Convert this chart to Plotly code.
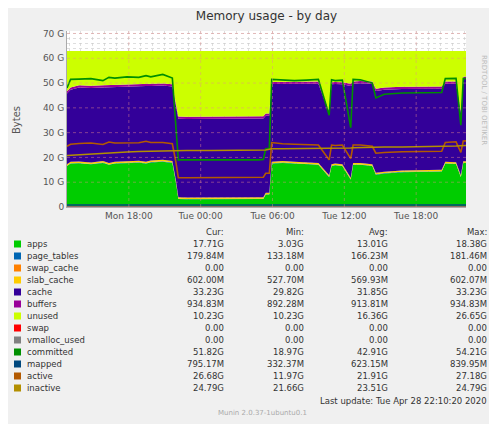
import plotly.graph_objects as go
import datetime as dt

start = dt.datetime(2020, 4, 27, 12, 50)
T = [0,0.3,1,2,3,3.5,4,5,6,6.6,7,8,8.8,9.1,9.3,10,12,14,16,16.4,16.6,16.9,17.1,18,19,20,21,21.9,22.1,22.4,23,23.7,23.9,24.5,25.5,25.8,26.5,28,30,31.3,31.6,32.5,32.9,33.1,33.33]
times = [start + dt.timedelta(hours=h) for h in T]

apps = [16.5,17.5,17.6,17.2,17.8,17.0,17.5,17.7,17.9,17.5,18.0,18.3,17.8,10.0,3.2,3.1,3.1,3.1,3.1,3.2,5.0,5.0,17.5,17.8,17.5,17.4,17.0,12.0,16.5,16.8,16.5,11.0,17.0,17.0,16.5,13.0,13.5,14.0,14.3,14.3,17.5,17.3,12.0,17.7,17.71]
page_tables = [0.17]*len(T)
swap_cache = [0.0]*len(T)
slab_cache = [0.6]*len(T)
cache = [28.5,29.0,29.8,30.0,29.6,30.5,30.0,30.2,30.0,30.5,30.0,29.9,30.0,30.0,31.6,31.6,31.6,31.6,31.6,31.7,31.0,31.0,31.3,31.0,31.4,31.5,32.0,25.0,32.2,32.0,32.2,37.0,32.0,32.2,32.5,33.0,33.0,32.8,32.7,32.6,31.5,31.7,25.0,33.2,33.23]
buffers = [0.9]*len(T)
total = 62.9
unused = [round(total - a - p - s - sl - c - b, 2) for a, p, s, sl, c, b in zip(apps, page_tables, swap_cache, slab_cache, cache, buffers)]
swap = [0.0]*len(T)
vmalloc_used = [0.0]*len(T)
committed = [48.0,51.5,51.6,51.8,51.0,52.3,52.0,52.5,52.3,53.0,52.5,53.5,52.0,30.0,19.0,19.0,19.1,19.0,19.0,19.2,23.5,23.7,51.5,51.3,51.0,51.2,51.5,37.0,51.3,51.0,51.2,32.0,51.5,51.3,50.0,44.0,45.5,46.0,46.3,46.2,51.8,51.9,33.0,51.8,51.82]
mapped = [0.8]*len(T)
active = [24.5,25.3,25.6,25.8,25.2,26.2,25.8,26.0,25.9,26.5,26.0,26.0,25.5,18.0,11.8,11.8,11.8,11.8,11.9,12.0,13.6,13.6,26.0,25.5,25.3,25.0,25.0,19.0,25.0,24.8,25.0,19.5,25.0,25.0,24.5,21.7,22.0,22.3,22.5,22.5,26.0,26.3,22.0,26.6,26.68]
inactive = [20.8,20.9,21.0,21.3,21.6,21.8,22.0,22.2,22.4,22.5,22.6,22.7,22.8,22.8,22.8,22.8,22.8,22.8,22.8,22.8,23.0,23.3,23.5,23.5,23.5,23.6,23.6,23.6,23.7,23.7,23.8,23.8,23.9,24.0,24.0,24.1,24.2,24.2,24.3,24.3,24.5,24.6,24.7,24.79,24.79]

stat_cur = ["17.71G","179.84M","0.00","602.00M","33.23G","934.83M","10.23G","0.00","0.00","51.82G","795.17M","26.68G","24.79G"]
stat_min = ["3.03G","133.18M","0.00","527.70M","29.82G","892.28M","10.23G","0.00","0.00","18.97G","332.37M","11.97G","21.66G"]
stat_avg = ["13.01G","166.23M","0.00","569.93M","31.85G","913.81M","16.36G","0.00","0.00","42.91G","623.15M","21.91G","23.51G"]
stat_max = ["18.38G","181.46M","0.00","602.07M","33.23G","934.83M","26.65G","0.00","0.00","54.21G","839.95M","27.18G","24.79G"]
names = ["apps","page_tables","swap_cache","slab_cache","cache","buffers","unused","swap","vmalloc_used","committed","mapped","active","inactive"]
colors = ["#00CC00","#0066B3","#FF8000","#FFCC00","#330099","#990099","#CCFF00","#FF0000","#808080","#008F00","#00487D","#B35A00","#B38F00"]
x_ticks = [dt.datetime(2020, 4, 27, 18), dt.datetime(2020, 4, 28, 0), dt.datetime(2020, 4, 28, 6),
           dt.datetime(2020, 4, 28, 12), dt.datetime(2020, 4, 28, 18)]
x_labels = ["Mon 18:00", "Tue 00:00", "Tue 06:00", "Tue 12:00", "Tue 18:00"]
y_ticks = [0, 10, 20, 30, 40, 50, 60, 70]
y_labels = ["0", "10 G", "20 G", "30 G", "40 G", "50 G", "60 G", "70 G"]

fig = go.Figure()
areas = [apps, page_tables, swap_cache, slab_cache, cache, buffers, unused]
for i, vals in enumerate(areas):
    fig.add_trace(go.Scatter(x=times, y=vals, stackgroup="m", mode="lines",
                             line=dict(width=0, color=colors[i]), fillcolor=colors[i],
                             showlegend=False, hoverinfo="skip"))
lines = [swap, vmalloc_used, committed, mapped, active, inactive]
for j, vals in enumerate(lines):
    fig.add_trace(go.Scatter(x=times, y=vals, mode="lines",
                             line=dict(width=1.6, color=colors[7 + j]),
                             showlegend=False, hoverinfo="skip"))

OFF = 8
L, R, TOP, BOT = 67 - OFF, 466 - OFF, 31 - OFF, 207 - OFF
W, H = 497 - OFF, 424 - OFF
F = "DejaVu Sans"
ann = []
def px(xp): return (xp - OFF - L) / (R - L)
def py(yp): return (BOT - (yp - OFF)) / (BOT - TOP)
def txt(x, y, s, anchor="left", size=8.5, color="#333", angle=0):
    ann.append(dict(x=px(x), y=py(y), xref="paper", yref="paper", text=s, showarrow=False,
                    xanchor=anchor, yanchor="middle", textangle=angle,
                    font=dict(family=F, size=size, color=color)))

txt(226, 232, "Cur:", "right")
txt(306, 232, "Min:", "right")
txt(390, 232, "Avg:", "right")
txt(489, 232, "Max:", "right")
shapes = []
for k, n in enumerate(names):
    yy = 244 + 12 * k
    shapes.append(dict(type="rect", xref="paper", yref="paper",
                       x0=px(14), x1=px(21), y0=py(yy + 3.5), y1=py(yy - 3.5),
                       fillcolor=colors[k], line=dict(width=0)))
    txt(25, yy, n)
    txt(226, yy, stat_cur[k], "right")
    txt(306, yy, stat_min[k], "right")
    txt(390, yy, stat_avg[k], "right")
    txt(489, yy, stat_max[k], "right")
txt(489, 401, "Last update: Tue Apr 28 22:10:20 2020", "right")
txt(262, 413, "Munin 2.0.37-1ubuntu0.1", "center", 7, "#aaa")
txt(17, 120, "Bytes", "center", 10, "#555", -90)
ann.append(dict(x=px(490), y=py(100), xref="paper", yref="paper", text="RRDTOOL / TOBI OETIKER",
                showarrow=False, textangle=90, font=dict(family=F, size=7, color="#bbb")))

grid_line = dict(color="rgba(230,140,140,0.45)", width=1, dash="dot")
for yv in y_ticks[1:]:
    shapes.append(dict(type="line", xref="paper", yref="y", x0=0, x1=1, y0=yv, y1=yv,
                       line=grid_line, layer="above"))
for xv in x_ticks:
    shapes.append(dict(type="line", xref="x", yref="paper", x0=xv, x1=xv, y0=0, y1=1,
                       line=grid_line, layer="above"))

fig.update_layout(
    width=W, height=H, margin=dict(l=L, r=W - R, t=TOP, b=H - BOT, autoexpand=False),
    paper_bgcolor="#F0F0F0", plot_bgcolor="#FFFFFF",
    title=dict(text="Memory usage - by day", x=0.5, xref="paper", y=1 - 4 / H, yanchor="top",
               font=dict(family=F, size=12, color="#333")),
    annotations=ann, shapes=shapes,
    xaxis=dict(type="date", range=[start, start + dt.timedelta(hours=33.33)], automargin=False,
               tickvals=x_ticks, ticktext=x_labels, showgrid=False,
               minor=dict(dtick=3600000, showgrid=True, gridcolor="rgba(200,200,200,0.6)", griddash="dot"),
               tickfont=dict(family=F, size=9, color="#555"), showline=True, linecolor="#aaa",
               zeroline=False),
    yaxis=dict(range=[0, 71], tickvals=y_ticks, ticktext=y_labels, automargin=False,
               showgrid=False,
               minor=dict(dtick=2, showgrid=True, gridcolor="rgba(200,200,200,0.6)", griddash="dot"),
               tickfont=dict(family=F, size=9, color="#555"), showline=True, linecolor="#aaa",
               zeroline=False),
)
fig.write_html("out.html")
